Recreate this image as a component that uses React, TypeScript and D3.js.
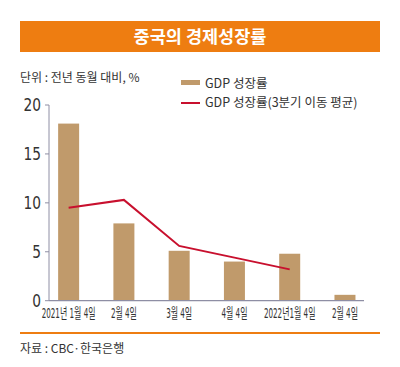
import React from "react";
import * as d3 from "d3";

const categories = ["2021년 1월 4일", "2월 4일", "3월 4일", "4월 4일", "2022년1월 4일", "2월 4일"];
const gdpGrowth = [18.1, 7.9, 5.1, 4.0, 4.8, 0.6];
const movingAvg = [9.5, 10.3, 5.6, 4.4, 3.2];
const yTicks = [0, 5, 10, 15, 20];

const ORANGE = "#ee7d11";
const BAR = "#c09a6b";
const LINE = "#c8102e";
const AXIS = "#8e8ea4";
const KR = "'Noto Sans CJK KR', 'Noto Sans', sans-serif";
const NARROW = "'Liberation Sans Narrow', 'DejaVu Sans Condensed', 'Noto Sans CJK KR', sans-serif";

const App = () => {
  const width = 400;
  const height = 367;
  const axisX = 49;

  const x = d3
    .scaleBand<number>()
    .domain(categories.map((_, i) => i))
    .range([41, 372.6])
    .paddingInner(0.62)
    .paddingOuter(0.31);
  const y = d3.scaleLinear().domain([0, 20]).range([300.7, 105]);

  const line = d3
    .line<number>()
    .x((_, i) => x(i)! + x.bandwidth() / 2)
    .y((d) => y(d));

  return (
    <svg
      width={width}
      height={height}
      style={{ position: "absolute", left: 0, top: 0, background: "#fff" }}
    >
      {/* title bar */}
      <rect x={20} y={21} width={360} height={31} fill={ORANGE} />
      <text
        x={200}
        y={43}
        textAnchor="middle"
        fill="#fff"
        fontFamily={KR}
        fontWeight={700}
        fontSize={17.5}
      >
        중국의 경제성장률
      </text>

      <text x={20} y={82} fontFamily={KR} fontSize={12} fill="#333">
        단위 : 전년 동월 대비, %
      </text>

      {/* legend */}
      <rect x={181} y={80} width={19} height={5} fill={BAR} />
      <text x={205} y={88} fontFamily={KR} fontSize={12.5} fill="#333">
        GDP 성장률
      </text>
      <line x1={181} x2={200} y1={103} y2={103} stroke={LINE} strokeWidth={2} />
      <text x={205} y={107} fontFamily={KR} fontSize={12.5} fill="#333">
        GDP 성장률(3분기 이동 평균)
      </text>

      {/* y axis */}
      <line x1={axisX} x2={axisX} y1={y(20)} y2={y(0)} stroke={AXIS} strokeWidth={1} />
      {yTicks.map((t) => (
        <g key={t}>
          <line x1={axisX - 4} x2={axisX} y1={y(t)} y2={y(t)} stroke={AXIS} />
          <text
            transform={`translate(41,${y(t) + 6}) scale(0.85,1)`}
            textAnchor="end"
            fontFamily={NARROW}
            fontSize={18}
            fill="#333"
          >
            {t}
          </text>
        </g>
      ))}

      {/* bars */}
      {gdpGrowth.map((v, i) => (
        <rect
          key={i}
          x={x(i)}
          y={y(v)}
          width={x.bandwidth()}
          height={y(0) - y(v)}
          fill={BAR}
        />
      ))}

      {/* x axis */}
      <line x1={axisX} x2={364} y1={y(0)} y2={y(0)} stroke={AXIS} strokeWidth={1.2} />
      {categories.map((c, i) => (
        <text
          key={i}
          transform={`translate(${x(i)! + x.bandwidth() / 2},317.5) scale(0.57,1)`}
          textAnchor="middle"
          fontFamily={NARROW}
          fontSize={14}
          fill="#333"
        >
          {c}
        </text>
      ))}

      {/* moving average line */}
      <path d={line(movingAvg)!} fill="none" stroke={LINE} strokeWidth={2} />

      {/* footer */}
      <line x1={20} x2={380} y1={333} y2={333} stroke={ORANGE} strokeWidth={2} />
      <text x={20} y={353} fontFamily={KR} fontSize={12} fill="#333">
        자료 : CBC·한국은행
      </text>
    </svg>
  );
};

export default App;
